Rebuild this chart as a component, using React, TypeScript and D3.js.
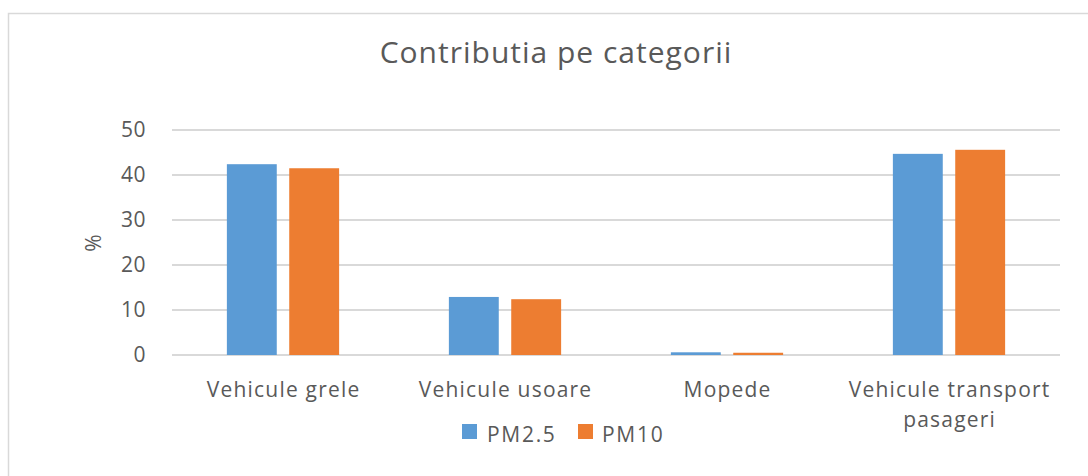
import React from "react";
import * as d3 from "d3";

const categories = ["Vehicule grele", "Vehicule usoare", "Mopede", "Vehicule transport pasageri"];
const categoryLines = [["Vehicule grele"], ["Vehicule usoare"], ["Mopede"], ["Vehicule transport", "pasageri"]];
const seriesNames = ["PM2.5", "PM10"];
const pm25 = [42.4, 12.9, 0.6, 44.7];
const pm10 = [41.5, 12.4, 0.5, 45.6];
const yTicks = [0, 10, 20, 30, 40, 50];
const colors = ["#5B9BD5", "#ED7D31"];

const W = 1088;
const H = 476;
const plot = { left: 172, right: 1060, top: 130, bottom: 355 };
const font = "'Open Sans', sans-serif";
const textColor = "#595959";

export default function App() {
  const x = d3.scaleBand<string>().domain(categories).range([plot.left, plot.right]).paddingInner(0).paddingOuter(0);
  const y = d3.scaleLinear().domain([0, 50]).range([plot.bottom, plot.top]);
  const inner = d3.scaleBand<string>().domain(seriesNames).range([0, x.bandwidth()]).paddingInner(0.2).paddingOuter(0.88);
  const series = [pm25, pm10];

  return (
    <svg width={W} height={H} style={{ position: "absolute", left: 0, top: 0 }} fontFamily={font}>
      <rect x={0} y={0} width={W} height={H} fill="#fff" />
      <path d={`M8.5,${H} L8.5,13.5 L${W},13.5`} fill="none" stroke="#D9D9D9" strokeWidth={1.5} />
      <text x={556} y={63} textAnchor="middle" fontSize={30} letterSpacing={1} fill={textColor}>Contributia pe categorii</text>
      {yTicks.map((t) => (
        <g key={t}>
          <line x1={plot.left} x2={plot.right} y1={y(t)} y2={y(t)} stroke="#D9D9D9" strokeWidth={2} />
          <text x={146} y={y(t) + 7} textAnchor="end" fontSize={21} letterSpacing={0.5} fill={textColor}>{t}</text>
        </g>
      ))}
      <text transform={`translate(101,243) rotate(-90)`} textAnchor="middle" fontSize={21} fill={textColor}>%</text>
      {categories.map((c, i) => (
        <g key={c}>
          {series.map((s, j) => (
            <rect key={j} x={(x(c) ?? 0) + (inner(seriesNames[j]) ?? 0)} y={y(s[i])} width={inner.bandwidth()} height={y(0) - y(s[i])} fill={colors[j]} />
          ))}
          {categoryLines[i].map((ln, k) => (
            <text key={k} x={(x(c) ?? 0) + x.bandwidth() / 2 + 0.6} y={397 + k * 30} textAnchor="middle" fontSize={21} letterSpacing={1.2} fill={textColor}>{ln}</text>
          ))}
        </g>
      ))}
      <g>
        <rect x={462} y={424} width={15} height={15} fill={colors[0]} />
        <text x={487} y={442} fontSize={21} letterSpacing={1.7} fill={textColor}>{seriesNames[0]}</text>
        <rect x={578} y={424} width={15} height={15} fill={colors[1]} />
        <text x={602} y={442} fontSize={21} letterSpacing={1.7} fill={textColor}>{seriesNames[1]}</text>
      </g>
    </svg>
  );
}
